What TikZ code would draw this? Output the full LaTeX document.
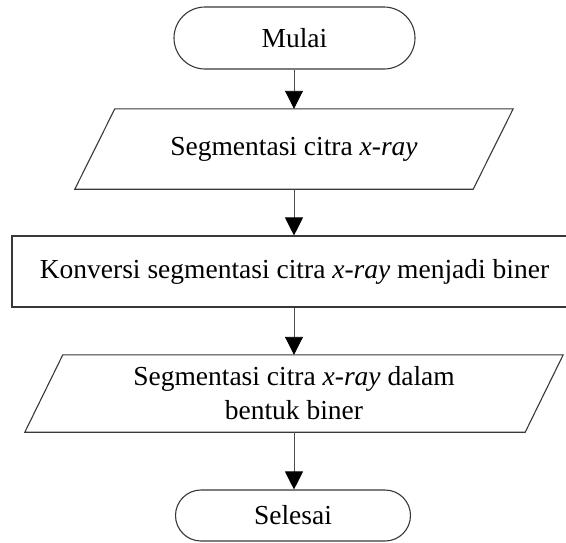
\documentclass[tikz,border=0pt]{standalone}
\usepackage{fontspec}
\setmainfont{Liberation Serif}
\usetikzlibrary{arrows.meta,calc}
\begin{document}
\begin{tikzpicture}[x=1pt,y=-1pt,
  every node/.style={font=\fontsize{27.5}{34}\selectfont, align=center, inner sep=0pt},
  outline/.style={draw=black!78, line width=1.1pt},
  flow/.style={draw=black!70, line width=0.9pt, -{Triangle[width=18pt,length=18pt,color=black]}}
]
\useasboundingbox (0,0) rectangle (566,542);

% start terminal
\node[outline, rounded corners=31pt, minimum width=241pt, minimum height=62pt] (mulai) at (294.5,38) {Mulai};

% input: segmented x-ray image
\node[minimum width=398pt, minimum height=80pt] (seg) at (294,149) {Segmentasi citra \textit{x-ray}};
\draw[outline] ($(seg.north west)+(20,0)$) -- ($(seg.north east)+(20,0)$)
  -- ($(seg.south east)+(-20,0)$) -- ($(seg.south west)+(-20,0)$) -- cycle;

% process: binary conversion
\node[outline, minimum width=565pt, minimum height=71pt] (konv) at (294.5,271.5)
  {Konversi segmentasi citra \textit{x-ray} menjadi biner};

% output: binary segmented image
\node[minimum width=500pt, minimum height=77pt] (biner) at (294,393.5)
  {Segmentasi citra \textit{x-ray} dalam\\bentuk biner};
\draw[outline] ($(biner.north west)+(19,0)$) -- ($(biner.north east)+(19,0)$)
  -- ($(biner.south east)+(-19,0)$) -- ($(biner.south west)+(-19,0)$) -- cycle;

% end terminal
\node[outline, rounded corners=25.5pt, minimum width=235pt, minimum height=51pt] (selesai) at (293,515.5) {Selesai};

% connectors
\draw[flow] (mulai.south -| seg.north) -- (seg.north);
\draw[flow] (seg.south) -- (seg.south |- konv.north);
\draw[flow] (konv.south -| biner.north) -- (biner.north);
\draw[flow] (biner.south) -- (biner.south |- selesai.north);
\end{tikzpicture}
\end{document}
